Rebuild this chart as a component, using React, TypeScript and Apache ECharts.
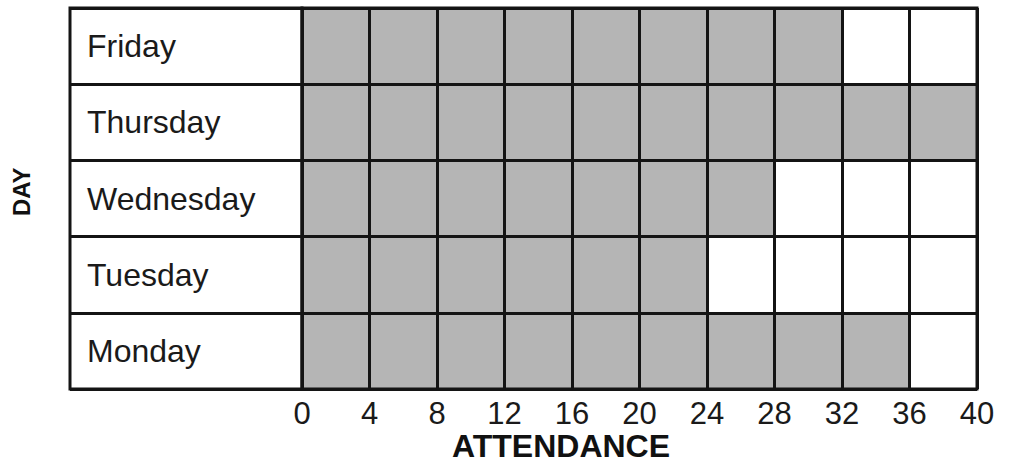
import React, { useEffect, useRef } from "react";
import * as echarts from "echarts";

const days = ["Monday", "Tuesday", "Wednesday", "Thursday", "Friday"];
const attendance = [36, 24, 28, 40, 32];
const xTicks = { min: 0, max: 40, interval: 4 };

const LINE = "#141414";
const FONT = "'Liberation Sans', Arial, sans-serif";

export default function App() {
  const ref = useRef<HTMLDivElement>(null);
  useEffect(() => {
    if (!ref.current) return;
    const chart = echarts.init(ref.current, undefined, { renderer: "svg" });
    chart.setOption({
      animation: false,
      backgroundColor: "#ffffff",
      grid: [
        { left: 70, width: 232, top: 8, bottom: 79, show: true, borderColor: LINE, borderWidth: 3, z: 5 },
        { left: 302, right: 36, top: 8, bottom: 79, show: true, borderColor: LINE, borderWidth: 3, z: 5 },
      ],
      xAxis: [
        { gridIndex: 0, type: "value", min: 0, max: 1, show: false },
        {
          gridIndex: 1,
          type: "value",
          min: xTicks.min,
          max: xTicks.max,
          interval: xTicks.interval,
          z: 10,
          axisLine: { show: false },
          axisTick: { show: false },
          splitLine: { show: true, lineStyle: { color: LINE, width: 3 } },
          axisLabel: { color: "#1a1a1a", fontSize: 31, fontFamily: FONT, margin: 9 },
        },
      ],
      yAxis: [
        {
          gridIndex: 0,
          type: "category",
          data: days,
          z: 10,
          axisLine: { show: false },
          axisTick: { show: false },
          splitLine: { show: true, lineStyle: { color: LINE, width: 3 } },
          axisLabel: { inside: true, margin: 17, color: "#1a1a1a", fontSize: 32, fontFamily: FONT },
        },
        {
          gridIndex: 1,
          type: "category",
          data: days,
          z: 10,
          axisLine: { show: false },
          axisTick: { show: false },
          axisLabel: { show: false },
          splitLine: { show: true, lineStyle: { color: LINE, width: 3 } },
        },
      ],
      series: [
        {
          type: "bar",
          xAxisIndex: 1,
          yAxisIndex: 1,
          data: attendance,
          barWidth: "100%",
          barCategoryGap: "0%",
          itemStyle: { color: "#b5b5b5" },
          z: 2,
        },
      ],
      graphic: [
        {
          type: "text",
          left: 452,
          top: 430,
          style: { text: "ATTENDANCE", fontSize: 32, fontWeight: "bold", fontFamily: FONT, fill: "#111" },
        },
        {
          type: "text",
          x: 9,
          y: 216,
          rotation: Math.PI / 2,
          style: { text: "DAY", fontSize: 24, fontWeight: "bold", fontFamily: FONT, fill: "#111" },
        },
      ],
    });
    return () => chart.dispose();
  }, []);
  return (
    <div
      ref={ref}
      style={{ position: "fixed", left: 0, top: 0, width: 1013, height: 468 }}
    />
  );
}
